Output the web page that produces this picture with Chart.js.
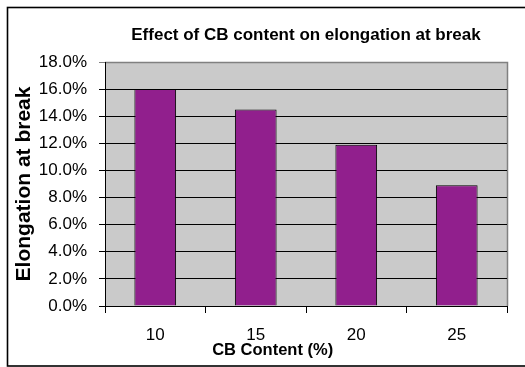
<!DOCTYPE html>
<html>
<head>
<meta charset="utf-8">
<script src="https://cdn.jsdelivr.net/npm/chart.js@4/dist/chart.umd.min.js"></script>
<style>
  html, body { margin: 0; padding: 0; background: #ffffff; }
  #wrap { width: 525px; height: 367px; }
</style>
</head>
<body>
<div id="wrap"><canvas id="c" width="525" height="367"></canvas></div>
<script>
// CB content levels and measured elongation at break (%)
const cbContent = ['10', '15', '20', '25'];
const elongation = [16.0, 14.5, 11.9, 8.9];
const yTicks = [0, 2, 4, 6, 8, 10, 12, 14, 16, 18];

const chartTitle = 'Effect of CB content on elongation at break';
const xTitle = 'CB Content (%)';
const yTitle = 'Elongation at break';

const FONT = '"Liberation Sans", Arial, sans-serif';

// Frame, grey plot background and the x-axis caption
const decor = {
  id: 'decor',
  beforeDraw(chart) {
    const { ctx, chartArea: a } = chart;
    ctx.save();
    ctx.fillStyle = '#ffffff';
    ctx.fillRect(0, 0, chart.width, chart.height);
    ctx.strokeStyle = '#000000';
    ctx.lineWidth = 1.6;
    ctx.strokeRect(7.5, 7.5, chart.width + 20, 358.5);
    ctx.fillStyle = '#cacaca';
    ctx.fillRect(a.left, a.top, a.right - a.left, a.bottom - a.top);
    ctx.strokeStyle = '#808080';
    ctx.lineWidth = 1.5;
    ctx.beginPath();
    ctx.moveTo(a.left, a.top + 0.5);
    ctx.lineTo(a.right + 0.5, a.top + 0.5);
    ctx.lineTo(a.right + 0.5, a.bottom);
    ctx.stroke();
    ctx.restore();
  },
  afterDraw(chart) {
    const { ctx, chartArea: a } = chart;
    ctx.save();
    ctx.font = 'bold 16.5px ' + FONT;
    ctx.fillStyle = '#000000';
    ctx.textAlign = 'center';
    ctx.textBaseline = 'middle';
    ctx.fillText(xTitle, a.left + (a.right - a.left) * 0.417, 350);
    ctx.restore();
  }
};

new Chart(document.getElementById('c'), {
  type: 'bar',
  data: {
    labels: cbContent,
    datasets: [{
      data: elongation,
      backgroundColor: '#911f8d',
      borderColor: '#000000',
      borderWidth: 1,
      categoryPercentage: 1,
      barPercentage: 0.415
    }]
  },
  options: {
    responsive: false,
    animation: false,
    devicePixelRatio: 1,
    layout: { padding: { left: 0, right: 18, top: 0, bottom: 0 } },
    plugins: {
      legend: { display: false },
      tooltip: { enabled: false },
      title: {
        display: true,
        text: chartTitle,
        fullSize: false,
        color: '#000000',
        font: { family: FONT, size: 17, weight: 'bold', lineHeight: 1.2 },
        padding: { top: 25, bottom: 16.6 }
      }
    },
    scales: {
      x: {
        offset: true,
        grid: {
          offset: true,
          drawOnChartArea: false,
          drawTicks: true,
          tickLength: 7,
          color: '#000000'
        },
        border: { color: '#000000', width: 1 },
        ticks: {
          color: '#000000',
          font: { family: FONT, size: 17 },
          padding: 12
        },
        afterFit(scale) { scale.height = 61; }
      },
      y: {
        min: 0,
        max: 18,
        afterBuildTicks(scale) { scale.ticks = yTicks.map(v => ({ value: v })); },
        grid: {
          color: ctx => (ctx.tick && ctx.tick.value === 18 ? '#808080' : '#000000'),
          tickLength: 6,
          lineWidth: 1
        },
        border: { color: '#000000', width: 1 },
        ticks: {
          color: '#000000',
          font: { family: FONT, size: 17 },
          padding: 12,
          callback: v => v.toFixed(1) + '%'
        },
        title: {
          display: true,
          text: yTitle,
          color: '#000000',
          font: { family: FONT, size: 21, weight: 'bold', lineHeight: 1.2 },
          padding: { top: 12, bottom: 0 }
        },
        afterFit(scale) { scale.width = 105; }
      }
    }
  },
  plugins: [decor]
});
</script>
</body>
</html>
